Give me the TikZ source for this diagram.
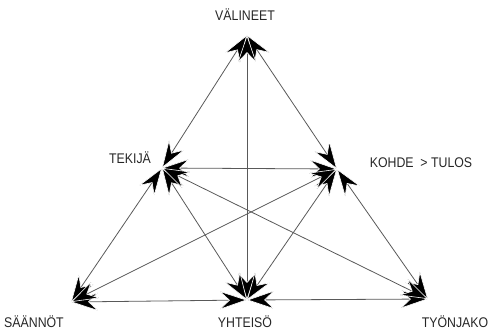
\documentclass[tikz,border=0pt]{standalone}
\usepackage{fontspec}
\setmainfont{Liberation Sans}[FakeStretch=0.88]
\usetikzlibrary{arrows.meta}
\tikzset{
  lbl/.style={font=\fontsize{14}{16}\selectfont, text=black!85, inner sep=0pt},
  tip/.tip={Stealth[length=28pt,width=19pt,inset=10pt,color=white,fill=black,line width=0.6pt]},
  link/.style={draw=black!65, line width=0.8pt, {tip}-{tip}}
}
\begin{document}
\begin{tikzpicture}[x=1pt,y=-1pt]
\useasboundingbox (0,0) rectangle (488,333);
\coordinate (V) at (247,35);
\coordinate (T) at (162,168);
\coordinate (K) at (337,169);
\coordinate (S) at (71,302);
\coordinate (Y) at (247,300);
\coordinate (J) at (428,299);
\node[lbl] (lV) at (245,15) {VÄLINEET};
\node[lbl] (lT) at (130,158) {TEKIJÄ};
\node[lbl] (lK) at (421,163) {KOHDE\ \ > TULOS};
\node[lbl] (lS) at (34,322) {SÄÄNNÖT};
\node[lbl] (lY) at (245,322) {YHTEISÖ};
\node[lbl] (lJ) at (455,322) {TYÖNJAKO};
\draw[link] (V) -- (T);
\draw[link] (T) -- (S);
\draw[link] (V) -- (K);
\draw[link] (K) -- (J);
\draw[link] (S) -- (Y);
\draw[link] (Y) -- (J);
\draw[link] (V) -- (Y);
\draw[link] (T) -- (K);
\draw[link] (T) -- (Y);
\draw[link] (K) -- (Y);
\draw[link] (T) -- (J);
\draw[link] (K) -- (S);
\end{tikzpicture}
\end{document}
